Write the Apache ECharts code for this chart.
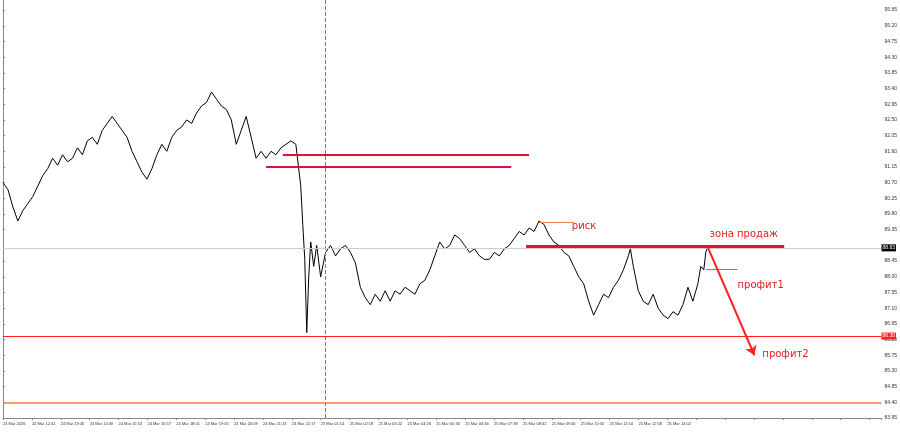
<!DOCTYPE html>
<html><head><meta charset="utf-8">
<script src="https://cdn.jsdelivr.net/npm/echarts@6/dist/echarts.min.js"></script>
<style>html,body{margin:0;background:#fff}#c{width:900px;height:437px}</style>
</head><body><div id="c"></div>
<script>
// price path (x in chart px units, close price)
var xs = [0,5,10,15,20,25,30,35,40,45,50,55,60,65,70,75,80,85,90,95,100,105,110,115,120,125,130,135,140,145,150,155,160,165,170,175,180,185,190,195,200,205,210,215,220,225,230,235,240,245,250,255,260,265,270,275,280,285,290,295,300,302,304,306,308,310,313,316,320,325,330,335,340,345,350,355,360,365,370,375,380,385,390,395,400,405,410,415,420,425,430,435,440,445,450,455,460,465,470,475,480,485,490,495,500,505,510,515,520,525,530,535,540,545,550,555,560,565,570,575,580,585,590,595,600,605,610,615,620,625,630,632,635,640,645,650,655,660,665,670,675,680,685,690,695,698,700,703,706,708,710];
var prices = [90.7,90.5,90.0,89.6,89.9,90.1,90.3,90.6,90.9,91.1,91.4,91.2,91.5,91.3,91.4,91.7,91.5,91.9,92.0,91.8,92.2,92.4,92.6,92.4,92.2,92.0,91.6,91.3,91.0,90.8,91.1,91.5,91.8,91.6,92.0,92.2,92.3,92.5,92.4,92.7,92.9,93.0,93.3,93.1,92.9,92.8,92.5,91.8,92.2,92.6,92.0,91.4,91.6,91.4,91.6,91.5,91.7,91.8,91.9,91.8,90.6,89.5,88.5,86.4,88.0,89.0,88.3,88.9,88.0,88.7,88.9,88.6,88.8,88.9,88.7,88.4,87.7,87.4,87.2,87.5,87.3,87.6,87.3,87.6,87.5,87.7,87.6,87.5,87.8,87.9,88.2,88.6,89.0,88.8,88.9,89.2,89.1,88.9,88.7,88.8,88.6,88.5,88.5,88.7,88.6,88.8,88.9,89.1,89.3,89.2,89.4,89.3,89.6,89.5,89.2,89.0,88.9,88.7,88.6,88.3,88.0,87.8,87.3,86.9,87.2,87.5,87.4,87.7,87.9,88.2,88.6,88.8,88.3,87.6,87.3,87.2,87.5,87.1,86.9,86.8,87.0,86.9,87.2,87.7,87.3,87.6,87.8,88.3,88.2,88.7,88.9];
var timeLabels = ['24 Mar 2026','24 Mar 12:41','24 Mar 13:45','24 Mar 14:49','24 Mar 15:53','24 Mar 16:57','24 Mar 18:01','24 Mar 19:05','24 Mar 20:09','24 Mar 21:13','24 Mar 22:17','25 Mar 01:14','25 Mar 02:18','25 Mar 03:22','25 Mar 04:26','25 Mar 05:30','25 Mar 06:34','25 Mar 07:38','25 Mar 08:42','25 Mar 09:46','25 Mar 10:50','25 Mar 11:54','25 Mar 12:58','25 Mar 14:02'];
var priceTicks = [83.95,84.40,84.85,85.30,85.75,86.20,86.65,87.10,87.55,88.00,88.45,89.35,89.80,90.25,90.70,91.15,91.60,92.05,92.50,92.95,93.40,93.85,94.30,94.75,95.20,95.65];
var curPrice = 88.83, supportLevel = 86.30, lowLevel = 84.38;
// drawn levels: [x1, x2, price]
var redLevels = [[282,530,91.49],[265,512,91.17]];
var sellZone = [527,787,88.88];
var riskLine = [540,575,89.56];
var tp1Line = [708,740,88.23];
var arrow = [[710,88.85],[757,85.75]];
var notes = [['риск',573,89.45],['зона продаж',712,89.22],['профит1',740,87.75],['профит2',765,85.78]];

var step = 29.1;
var line = xs.map(function (x, i) { return [x, prices[i]]; });
var red = '#e0103a';

var opt = {
    animation: false,
    grid: { left: 0, right: 15, top: 0, bottom: 19 },
    xAxis: {
        type: 'value', min: 0, max: 885, interval: step,
        axisLine: { lineStyle: { color: '#888' } },
        axisTick: { length: 2, lineStyle: { color: '#888' } },
        splitLine: { show: false },
        axisLabel: {
            fontSize: 4, color: '#333', align: 'left', margin: 4, hideOverlap: false,
            formatter: function (v) { return timeLabels[Math.round(v / step)] || ''; }
        }
    },
    yAxis: {
        type: 'value', position: 'right', min: 83.95, max: 95.94,
        axisLine: { show: true, lineStyle: { color: '#888' } },
        axisTick: { show: true, length: 2, customValues: priceTicks },
        splitLine: { show: false },
        axisLabel: { fontSize: 5, color: '#333', margin: 3, customValues: priceTicks,
            formatter: function (v) { return v.toFixed(2); } }
    },
    series: [{
        type: 'line', data: line, symbol: 'none',
        lineStyle: { color: '#000', width: 1 },
        markLine: {
            symbol: 'none', silent: true,
            data: [
                [{ coord: [325, 83.95], lineStyle: { color: '#777', type: 'dashed', width: 1 } }, { coord: [325, 95.94] }],
                { yAxis: curPrice, lineStyle: { color: '#ccc', type: 'solid', width: 1 },
                  label: { show: true, position: 'end', formatter: curPrice.toFixed(2), backgroundColor: '#000', color: '#fff', fontSize: 5, padding: [1, 1], distance: 0 } },
                { yAxis: supportLevel, lineStyle: { color: '#ff2020', type: 'solid', width: 1 },
                  label: { show: true, position: 'end', formatter: supportLevel.toFixed(2), backgroundColor: '#ff2020', color: '#fff', fontSize: 5, padding: [1, 1], distance: 0 } },
                { yAxis: lowLevel, lineStyle: { color: '#f08040', type: 'solid', width: 1.5 }, label: { show: false } },
                [{ coord: [redLevels[0][0], redLevels[0][2]], lineStyle: { color: red, type: 'solid', width: 2 } }, { coord: [redLevels[0][1], redLevels[0][2]] }],
                [{ coord: [redLevels[1][0], redLevels[1][2]], lineStyle: { color: red, type: 'solid', width: 2 } }, { coord: [redLevels[1][1], redLevels[1][2]] }],
                [{ coord: [sellZone[0], sellZone[2]], lineStyle: { color: red, type: 'solid', width: 3 } }, { coord: [sellZone[1], sellZone[2]] }],
                [{ coord: [riskLine[0], riskLine[2]], lineStyle: { color: '#f08050', type: 'solid', width: 1 } }, { coord: [riskLine[1], riskLine[2]] }],
                [{ coord: [tp1Line[0], tp1Line[2]], lineStyle: { color: '#e06040', type: 'solid', width: 1 } }, { coord: [tp1Line[1], tp1Line[2]] }],
                [{ coord: arrow[0], symbol: 'none', lineStyle: { color: '#ff2020', type: 'solid', width: 2 } }, { coord: arrow[1], symbol: 'arrow', symbolSize: 9 }]
            ].map(function (d) {
                if (Array.isArray(d)) d[0].label = { show: false };
                return d;
            })
        },
        markPoint: {
            symbolSize: 0, silent: true,
            data: notes.map(function (n) {
                return { coord: [n[1], n[2]], label: { show: true, formatter: n[0], color: '#e02020', fontSize: 10, position: 'right', distance: 0, fontFamily: 'DejaVu Sans' } };
            })
        }
    }]
};
echarts.init(document.getElementById('c')).setOption(opt);
</script></body></html>
